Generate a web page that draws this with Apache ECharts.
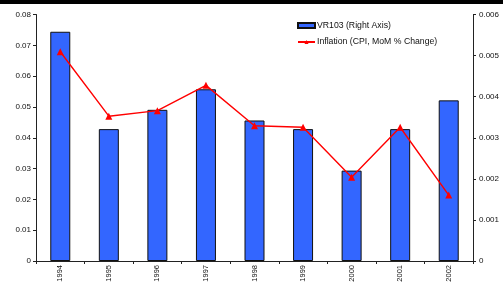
<!DOCTYPE html>
<html><head><meta charset="utf-8">
<script src="https://cdn.jsdelivr.net/npm/echarts@6/dist/echarts.min.js"></script>
<style>html,body{margin:0;padding:0;background:#fff}#c{width:503px;height:287px}</style>
</head><body><div id="c"></div>
<script>
const years = ['1994','1995','1996','1997','1998','1999','2000','2001','2002'];
const vr103 = [0.00558, 0.00321, 0.00368, 0.00418, 0.00342, 0.00321, 0.00220, 0.00321, 0.00391];
const inflation = [0.0679, 0.0470, 0.0488, 0.0570, 0.0439, 0.0434, 0.0272, 0.0434, 0.0214];
const leftTicks = [0, 0.01, 0.02, 0.03, 0.04, 0.05, 0.06, 0.07, 0.08];
const rightTicks = [0, 0.001, 0.002, 0.003, 0.004, 0.005, 0.006];

const chart = echarts.init(document.getElementById('c'), null, {renderer:'canvas'});
const font = 'Liberation Sans, Arial, sans-serif';
const axisCol = '#222';
chart.setOption({
  animation:false,
  backgroundColor:'#fff',
  textStyle:{fontFamily:font},
  graphic:[{type:'rect', shape:{x:0,y:0,width:503,height:4}, style:{fill:'#000'}}],
  legend:{
    orient:'vertical', left:292, top:16, itemWidth:17, itemHeight:5, itemGap:7.5,
    textStyle:{fontSize:8.7, color:'#111', fontFamily:font, padding:[0,0,0,-3]},
    data:[{name:'VR103 (Right Axis)', icon:'rect'}, {name:'Inflation (CPI, MoM % Change)'}]
  },
  grid:{left:36, right:30, top:14.5, bottom:26},
  xAxis:{
    type:'category', data:years, boundaryGap:true,
    axisLine:{lineStyle:{color:axisCol, width:1}},
    axisTick:{show:true, length:3, lineStyle:{color:axisCol}},
    axisLabel:{rotate:90, fontSize:7.5, color:'#111', margin:4, fontFamily:font}
  },
  yAxis:[{
    type:'value', min:0, max:0.08, interval:0.01, position:'left',
    splitLine:{show:false},
    axisLine:{show:true, lineStyle:{color:axisCol}},
    axisTick:{show:true, length:3, lineStyle:{color:axisCol}},
    axisLabel:{fontSize:8, color:'#111', margin:5, fontFamily:font,
      formatter:v=>{const i=leftTicks.findIndex(t=>Math.abs(t-v)<1e-9);return i>=0?String(leftTicks[i]):'';}}
  },{
    type:'value', min:0, max:0.006, interval:0.001, position:'right',
    splitLine:{show:false},
    axisLine:{show:true, lineStyle:{color:axisCol}},
    axisTick:{show:true, length:3, lineStyle:{color:axisCol}},
    axisLabel:{fontSize:8, color:'#111', margin:6, fontFamily:font,
      formatter:v=>{const i=rightTicks.findIndex(t=>Math.abs(t-v)<1e-9);return i>=0?String(rightTicks[i]):'';}}
  }],
  series:[{
    name:'VR103 (Right Axis)', type:'bar', yAxisIndex:1, data:vr103,
    barWidth:20,
    itemStyle:{color:'#3366FF', borderColor:'#111', borderWidth:1}
  },{
    name:'Inflation (CPI, MoM % Change)', type:'line', yAxisIndex:0, data:inflation,
    symbol:'triangle', symbolSize:7,
    lineStyle:{color:'#FF0000', width:1.4},
    itemStyle:{color:'#FF0000'}
  }]
});
</script></body></html>
